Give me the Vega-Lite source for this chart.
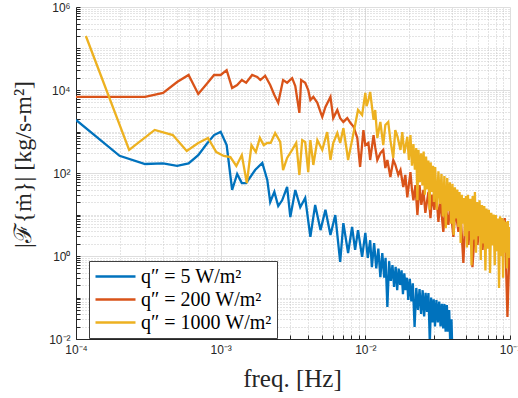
{
"$schema": "https://vega.github.io/schema/vega-lite/v6.json",
"width": 434, "height": 332,
"autosize": {"type": "none"},
"padding": {"left": 76, "top": 7, "right": 8, "bottom": 59},
"background": "white",
"config": {"view": {"stroke": null}},
"datasets": {"d": [
{"s":"5","f":1e-4,"v":1900},{"s":"5","f":2e-4,"v":260},{"s":"5","f":3e-4,"v":165},{"s":"5","f":4e-4,"v":170},{"s":"5","f":5e-4,"v":148},{"s":"5","f":6e-4,"v":170},{"s":"5","f":7e-4,"v":270},{"s":"5","f":8e-4,"v":500},{"s":"5","f":9e-4,"v":820},{"s":"5","f":1e-3,"v":980},{"s":"5","f":1.1e-3,"v":470},{"s":"5","f":1.2e-3,"v":39},{"s":"5","f":1.3e-3,"v":95},{"s":"5","f":1.4e-3,"v":57},{"s":"5","f":1.5e-3,"v":57},{"s":"5","f":1.73e-3,"v":118},{"s":"5","f":1.94e-3,"v":174},{"s":"5","f":2.1e-3,"v":68},{"s":"5","f":2.2e-3,"v":20},{"s":"5","f":2.35e-3,"v":35},{"s":"5","f":2.5e-3,"v":16},{"s":"5","f":2.66e-3,"v":22},{"s":"5","f":2.88e-3,"v":46},{"s":"5","f":3.03e-3,"v":8.7},{"s":"5","f":3.28e-3,"v":39},{"s":"5","f":3.55e-3,"v":15},{"s":"5","f":3.84e-3,"v":25},{"s":"5","f":4.17e-3,"v":2.9},{"s":"5","f":4.5e-3,"v":17},{"s":"5","f":4.9e-3,"v":4.2},{"s":"5","f":5.3e-3,"v":13},{"s":"5","f":5.74e-3,"v":3.2},{"s":"5","f":6.2e-3,"v":9.7},{"s":"5","f":6.7e-3,"v":0.72},{"s":"5","f":7.05e-3,"v":6.2},{"s":"5","f":7.6e-3,"v":1.18},{"s":"5","f":8.1e-3,"v":5.0},{"s":"5","f":8.5e-3,"v":1.4},{"s":"5","f":8.9e-3,"v":4.2},{"s":"5","f":9.5e-3,"v":0.95},{"s":"5","f":1.0e-2,"v":3.6},{"s":"5","f":1.04e-2,"v":0.9},{"s":"5","f":1.08e-2,"v":2.4},{"s":"5","f":1.11e-2,"v":0.54},{"s":"5","f":1.15e-2,"v":2.05},{"s":"5","f":1.19e-2,"v":0.5},{"s":"5","f":1.23e-2,"v":1.5},{"s":"5","f":1.27e-2,"v":0.31},{"s":"5","f":1.31e-2,"v":1.18},{"s":"5","f":1.35e-2,"v":0.3},{"s":"5","f":1.38e-2,"v":0.9},{"s":"5","f":1.42e-2,"v":0.059},{"s":"5","f":1.46e-2,"v":0.75},{"s":"5","f":1.5e-2,"v":0.25},{"s":"5","f":1.54e-2,"v":0.6},{"s":"5","f":1.58e-2,"v":0.18},{"s":"5","f":1.62e-2,"v":0.55},{"s":"5","f":1.66e-2,"v":0.15},{"s":"5","f":1.7e-2,"v":0.5},{"s":"5","f":1.74e-2,"v":0.2},{"s":"5","f":1.78e-2,"v":0.45},{"s":"5","f":1.82e-2,"v":0.12},{"s":"5","f":1.86e-2,"v":0.38},{"s":"5","f":1.9e-2,"v":0.15},{"s":"5","f":1.94e-2,"v":0.3},{"s":"5","f":1.98e-2,"v":0.087},{"s":"5","f":2.03e-2,"v":0.28},{"s":"5","f":2.08e-2,"v":0.08},{"s":"5","f":2.13e-2,"v":0.22},{"s":"5","f":2.19e-2,"v":0.0195},{"s":"5","f":2.25e-2,"v":0.17},{"s":"5","f":2.31e-2,"v":0.05},{"s":"5","f":2.37e-2,"v":0.16},{"s":"5","f":2.43e-2,"v":0.04},{"s":"5","f":2.49e-2,"v":0.15},{"s":"5","f":2.55e-2,"v":0.035},{"s":"5","f":2.61e-2,"v":0.13},{"s":"5","f":2.67e-2,"v":0.045},{"s":"5","f":2.73e-2,"v":0.128},{"s":"5","f":2.79e-2,"v":0.008},{"s":"5","f":2.85e-2,"v":0.1},{"s":"5","f":2.91e-2,"v":0.025},{"s":"5","f":2.97e-2,"v":0.09},{"s":"5","f":3.03e-2,"v":0.02},{"s":"5","f":3.1e-2,"v":0.087},{"s":"5","f":3.17e-2,"v":0.025},{"s":"5","f":3.24e-2,"v":0.08},{"s":"5","f":3.31e-2,"v":0.02},{"s":"5","f":3.38e-2,"v":0.07},{"s":"5","f":3.45e-2,"v":0.018},{"s":"5","f":3.52e-2,"v":0.07},{"s":"5","f":3.59e-2,"v":0.015},{"s":"5","f":3.66e-2,"v":0.066},{"s":"5","f":3.73e-2,"v":0.015},{"s":"5","f":3.8e-2,"v":0.05},{"s":"5","f":3.87e-2,"v":0.006},{"s":"5","f":3.94e-2,"v":0.03},{"s":"5","f":4.0e-2,"v":0.004},
{"s":"200","f":1e-4,"v":6800},{"s":"200","f":3e-4,"v":6800},{"s":"200","f":4e-4,"v":8500},{"s":"200","f":5e-4,"v":15600},{"s":"200","f":6e-4,"v":23000},{"s":"200","f":7e-4,"v":8000},{"s":"200","f":8e-4,"v":14000},{"s":"200","f":9e-4,"v":23000},{"s":"200","f":1e-3,"v":23000},{"s":"200","f":1.1e-3,"v":30000},{"s":"200","f":1.2e-3,"v":11200},{"s":"200","f":1.3e-3,"v":13200},{"s":"200","f":1.4e-3,"v":17400},{"s":"200","f":1.5e-3,"v":15000},{"s":"200","f":1.65e-3,"v":23000},{"s":"200","f":1.79e-3,"v":20600},{"s":"200","f":1.88e-3,"v":17400},{"s":"200","f":2.03e-3,"v":22000},{"s":"200","f":2.2e-3,"v":13200},{"s":"200","f":2.35e-3,"v":7600},{"s":"200","f":2.5e-3,"v":4900},{"s":"200","f":2.7e-3,"v":17400},{"s":"200","f":2.88e-3,"v":15000},{"s":"200","f":3.12e-3,"v":19300},{"s":"200","f":3.28e-3,"v":12500},{"s":"200","f":3.5e-3,"v":2800},{"s":"200","f":3.6e-3,"v":17400},{"s":"200","f":3.84e-3,"v":15000},{"s":"200","f":4.03e-3,"v":10000},{"s":"200","f":4.17e-3,"v":5700},{"s":"200","f":4.37e-3,"v":6800},{"s":"200","f":4.66e-3,"v":4900},{"s":"200","f":4.9e-3,"v":2950},{"s":"200","f":5.04e-3,"v":2250},{"s":"200","f":5.3e-3,"v":3900},{"s":"200","f":5.74e-3,"v":6800},{"s":"200","f":6.0e-3,"v":2100},{"s":"200","f":6.4e-3,"v":3300},{"s":"200","f":6.7e-3,"v":2100},{"s":"200","f":7.05e-3,"v":1700},{"s":"200","f":7.5e-3,"v":2100},{"s":"200","f":7.9e-3,"v":1600},{"s":"200","f":8.3e-3,"v":1300},{"s":"200","f":8.8e-3,"v":700},{"s":"200","f":9.2e-3,"v":140},{"s":"200","f":9.7e-3,"v":1080},{"s":"200","f":1.0e-2,"v":470},{"s":"200","f":1.05e-2,"v":530},{"s":"200","f":1.08e-2,"v":206},{"s":"200","f":1.14e-2,"v":820},{"s":"200","f":1.17e-2,"v":420},{"s":"200","f":1.21e-2,"v":206},{"s":"200","f":1.27e-2,"v":300},{"s":"200","f":1.33e-2,"v":360},{"s":"200","f":1.375e-2,"v":132},{"s":"200","f":1.42e-2,"v":206},{"s":"200","f":1.49e-2,"v":80},{"s":"200","f":1.56e-2,"v":206},{"s":"200","f":1.61e-2,"v":160},{"s":"200","f":1.69e-2,"v":90},{"s":"200","f":1.75e-2,"v":118},{"s":"200","f":1.83e-2,"v":46},{"s":"200","f":1.89e-2,"v":90},{"s":"200","f":1.95e-2,"v":26},{"s":"200","f":2.05e-2,"v":105},{"s":"200","f":2.1e-2,"v":40},{"s":"200","f":2.15e-2,"v":22},{"s":"200","f":2.22e-2,"v":51},{"s":"200","f":2.29e-2,"v":9.7},{"s":"200","f":2.37e-2,"v":51},{"s":"200","f":2.44e-2,"v":17},{"s":"200","f":2.52e-2,"v":39},{"s":"200","f":2.6e-2,"v":11},{"s":"200","f":2.73e-2,"v":35},{"s":"200","f":2.82e-2,"v":8.2},{"s":"200","f":2.9e-2,"v":30},{"s":"200","f":3.0e-2,"v":13},{"s":"200","f":3.1e-2,"v":30},{"s":"200","f":3.2e-2,"v":6.6},{"s":"200","f":3.3e-2,"v":22},{"s":"200","f":3.46e-2,"v":3.8},{"s":"200","f":3.58e-2,"v":17},{"s":"200","f":3.75e-2,"v":5.6},{"s":"200","f":3.87e-2,"v":17},{"s":"200","f":4.06e-2,"v":2.9},{"s":"200","f":4.2e-2,"v":13},{"s":"200","f":4.4e-2,"v":3.8},{"s":"200","f":4.54e-2,"v":13},{"s":"200","f":4.76e-2,"v":0.68},{"s":"200","f":4.92e-2,"v":9.7},{"s":"200","f":5.16e-2,"v":1.84},{"s":"200","f":5.33e-2,"v":8.2},{"s":"200","f":5.5e-2,"v":0.54},{"s":"200","f":5.77e-2,"v":6.6},{"s":"200","f":5.96e-2,"v":1.84},{"s":"200","f":6.25e-2,"v":9.7},{"s":"200","f":6.46e-2,"v":1.4},{"s":"200","f":6.77e-2,"v":10.8},{"s":"200","f":7.1e-2,"v":2.4},{"s":"200","f":7.33e-2,"v":10.8},{"s":"200","f":7.7e-2,"v":1.84},{"s":"200","f":7.94e-2,"v":9.7},{"s":"200","f":8.2e-2,"v":1.55},{"s":"200","f":8.6e-2,"v":7.3},{"s":"200","f":8.9e-2,"v":4.2},{"s":"200","f":9.2e-2,"v":8.2},{"s":"200","f":9.6e-2,"v":0.034},{"s":"200","f":1e-1,"v":4.2},
{"s":"1000","f":1.17e-4,"v":200000},{"s":"1000","f":2.33e-4,"v":360},{"s":"1000","f":3.5e-4,"v":1090},{"s":"1000","f":4.67e-4,"v":820},{"s":"1000","f":5.83e-4,"v":340},{"s":"1000","f":7.0e-4,"v":530},{"s":"1000","f":8.17e-4,"v":700},{"s":"1000","f":9.33e-4,"v":320},{"s":"1000","f":1.05e-3,"v":257},{"s":"1000","f":1.167e-3,"v":243},{"s":"1000","f":1.283e-3,"v":148},{"s":"1000","f":1.4e-3,"v":270},{"s":"1000","f":1.517e-3,"v":57},{"s":"1000","f":1.633e-3,"v":470},{"s":"1000","f":1.75e-3,"v":320},{"s":"1000","f":1.867e-3,"v":700},{"s":"1000","f":1.983e-3,"v":470},{"s":"1000","f":2.1e-3,"v":530},{"s":"1000","f":2.217e-3,"v":530},{"s":"1000","f":2.38e-3,"v":920},{"s":"1000","f":2.58e-3,"v":560},{"s":"1000","f":2.7e-3,"v":118},{"s":"1000","f":2.88e-3,"v":230},{"s":"1000","f":3.12e-3,"v":360},{"s":"1000","f":3.33e-3,"v":530},{"s":"1000","f":3.5e-3,"v":90},{"s":"1000","f":3.66e-3,"v":620},{"s":"1000","f":3.84e-3,"v":560},{"s":"1000","f":4.03e-3,"v":105},{"s":"1000","f":4.17e-3,"v":620},{"s":"1000","f":4.37e-3,"v":156},{"s":"1000","f":4.66e-3,"v":620},{"s":"1000","f":5.04e-3,"v":360},{"s":"1000","f":5.45e-3,"v":970},{"s":"1000","f":5.74e-3,"v":206},{"s":"1000","f":6.0e-3,"v":530},{"s":"1000","f":6.4e-3,"v":920},{"s":"1000","f":6.7e-3,"v":530},{"s":"1000","f":7.05e-3,"v":1200},{"s":"1000","f":7.4e-3,"v":400},{"s":"1000","f":7.6e-3,"v":206},{"s":"1000","f":8.1e-3,"v":620},{"s":"1000","f":8.5e-3,"v":1440},{"s":"1000","f":8.9e-3,"v":3300},{"s":"1000","f":9.5e-3,"v":2500},{"s":"1000","f":1.0e-2,"v":8500},{"s":"1000","f":1.02e-2,"v":4100},{"s":"1000","f":1.05e-2,"v":5700},{"s":"1000","f":1.08e-2,"v":9000},{"s":"1000","f":1.14e-2,"v":1900},{"s":"1000","f":1.17e-2,"v":3300},{"s":"1000","f":1.21e-2,"v":700},{"s":"1000","f":1.27e-2,"v":1700},{"s":"1000","f":1.33e-2,"v":470},{"s":"1000","f":1.375e-2,"v":1440},{"s":"1000","f":1.44e-2,"v":1700},{"s":"1000","f":1.49e-2,"v":620},{"s":"1000","f":1.56e-2,"v":230},{"s":"1000","f":1.61e-2,"v":1080},{"s":"1000","f":1.67e-2,"v":740},{"s":"1000","f":1.75e-2,"v":360},{"s":"1000","f":1.8e-2,"v":970},{"s":"1000","f":1.86e-2,"v":300},{"s":"1000","f":1.95e-2,"v":740},{"s":"1000","f":2.0e-2,"v":206},{"s":"1000","f":2.05e-2,"v":820},{"s":"1000","f":2.1e-2,"v":150},{"s":"1000","f":2.15e-2,"v":500},{"s":"1000","f":2.2e-2,"v":120},{"s":"1000","f":2.25e-2,"v":400},{"s":"1000","f":2.29e-2,"v":22},{"s":"1000","f":2.33e-2,"v":360},{"s":"1000","f":2.38e-2,"v":60},{"s":"1000","f":2.43e-2,"v":300},{"s":"1000","f":2.48e-2,"v":50},{"s":"1000","f":2.53e-2,"v":330},{"s":"1000","f":2.58e-2,"v":30},{"s":"1000","f":2.63e-2,"v":250},{"s":"1000","f":2.68e-2,"v":40},{"s":"1000","f":2.73e-2,"v":200},{"s":"1000","f":2.78e-2,"v":13},{"s":"1000","f":2.83e-2,"v":180},{"s":"1000","f":2.88e-2,"v":35},{"s":"1000","f":2.93e-2,"v":150},{"s":"1000","f":2.98e-2,"v":20},{"s":"1000","f":3.04e-2,"v":140},{"s":"1000","f":3.12e-2,"v":13},{"s":"1000","f":3.2e-2,"v":110},{"s":"1000","f":3.28e-2,"v":18},{"s":"1000","f":3.36e-2,"v":95},{"s":"1000","f":3.44e-2,"v":9},{"s":"1000","f":3.52e-2,"v":85},{"s":"1000","f":3.6e-2,"v":4.7},{"s":"1000","f":3.68e-2,"v":76},{"s":"1000","f":3.76e-2,"v":12},{"s":"1000","f":3.84e-2,"v":60},{"s":"1000","f":3.92e-2,"v":6},{"s":"1000","f":4.0e-2,"v":55},{"s":"1000","f":4.08e-2,"v":3.2},{"s":"1000","f":4.16e-2,"v":45},{"s":"1000","f":4.24e-2,"v":8},{"s":"1000","f":4.32e-2,"v":40},{"s":"1000","f":4.4e-2,"v":5},{"s":"1000","f":4.48e-2,"v":35},{"s":"1000","f":4.56e-2,"v":2.06},{"s":"1000","f":4.64e-2,"v":30},{"s":"1000","f":4.72e-2,"v":6},{"s":"1000","f":4.8e-2,"v":25},{"s":"1000","f":4.88e-2,"v":3},{"s":"1000","f":4.96e-2,"v":28},{"s":"1000","f":5.04e-2,"v":1.6},{"s":"1000","f":5.12e-2,"v":30},{"s":"1000","f":5.22e-2,"v":4},{"s":"1000","f":5.32e-2,"v":24},{"s":"1000","f":5.42e-2,"v":0.6},{"s":"1000","f":5.52e-2,"v":28},{"s":"1000","f":5.62e-2,"v":2.5},{"s":"1000","f":5.72e-2,"v":35},{"s":"1000","f":5.82e-2,"v":1.2},{"s":"1000","f":5.92e-2,"v":20},{"s":"1000","f":6.04e-2,"v":3},{"s":"1000","f":6.16e-2,"v":22},{"s":"1000","f":6.28e-2,"v":0.8},{"s":"1000","f":6.4e-2,"v":17},{"s":"1000","f":6.52e-2,"v":2},{"s":"1000","f":6.64e-2,"v":16},{"s":"1000","f":6.76e-2,"v":0.45},{"s":"1000","f":6.88e-2,"v":14},{"s":"1000","f":7.0e-2,"v":1.5},{"s":"1000","f":7.14e-2,"v":13},{"s":"1000","f":7.28e-2,"v":0.39},{"s":"1000","f":7.42e-2,"v":11},{"s":"1000","f":7.56e-2,"v":1.8},{"s":"1000","f":7.7e-2,"v":10},{"s":"1000","f":7.84e-2,"v":0.6},{"s":"1000","f":7.98e-2,"v":9.7},{"s":"1000","f":8.12e-2,"v":1.3},{"s":"1000","f":8.26e-2,"v":8},{"s":"1000","f":8.4e-2,"v":0.17},{"s":"1000","f":8.54e-2,"v":9},{"s":"1000","f":8.68e-2,"v":1},{"s":"1000","f":8.82e-2,"v":8.2},{"s":"1000","f":8.96e-2,"v":0.3},{"s":"1000","f":9.1e-2,"v":7.3},{"s":"1000","f":9.24e-2,"v":1.2},{"s":"1000","f":9.38e-2,"v":6.6},{"s":"1000","f":9.52e-2,"v":0.5},{"s":"1000","f":9.66e-2,"v":7},{"s":"1000","f":9.8e-2,"v":0.9},{"s":"1000","f":1e-1,"v":5}
]},
"data": {"name": "d"},
"mark": {"type": "line", "strokeWidth": 2.3, "clip": true},
"encoding": {
 "x": {"field": "f", "type": "quantitative",
  "scale": {"type": "log", "domain": [0.0001, 0.1], "nice": false},
  "axis": {
   "values": [1e-4,2e-4,3e-4,4e-4,5e-4,6e-4,7e-4,8e-4,9e-4,1e-3,2e-3,3e-3,4e-3,5e-3,6e-3,7e-3,8e-3,9e-3,1e-2,2e-2,3e-2,4e-2,5e-2,6e-2,7e-2,8e-2,9e-2,1e-1],
   "title": "freq. [Hz]",
   "titleFont": "Liberation Serif", "titleFontSize": 25, "titleFontWeight": "normal", "titleColor": "#262626",
   "titleX": 216, "titleY": 47, "titleBaseline": "alphabetic", "titleAlign": "center",
   "labelExpr": "abs(log(datum.value)/LN10 - round(log(datum.value)/LN10)) > 0.001 ? '' : round(log(datum.value)/LN10) == -4 ? '10⁻⁴' : round(log(datum.value)/LN10) == -3 ? '10⁻³' : round(log(datum.value)/LN10) == -2 ? '10⁻²' : '10⁻¹'",
   "labelFont": "Liberation Sans", "labelFontSize": 12, "labelColor": "#262626", "labelPadding": 9,
   "labelFlush": false, "labelOverlap": false, "labelBound": false,
   "grid": true,
   "gridColor": {"condition": {"test": "abs(log(datum.value)/LN10 - round(log(datum.value)/LN10)) < 0.001", "value": "#dedede"}, "value": "#c8c8c8"},
   "gridDash": {"condition": {"test": "abs(log(datum.value)/LN10 - round(log(datum.value)/LN10)) < 0.001", "value": []}, "value": [1, 2]},
   "gridWidth": 1,
   "domainColor": "#262626", "domainWidth": 1,
   "tickColor": "#262626", "tickSize": -4
  }
 },
 "y": {"field": "v", "type": "quantitative",
  "scale": {"type": "log", "domain": [0.01, 1000000], "nice": false},
  "axis": {
   "values": [0.01,0.02,0.03,0.04,0.05,0.06,0.07,0.08,0.09,0.1,0.2,0.3,0.4,0.5,0.6,0.7,0.8,0.9,1,2,3,4,5,6,7,8,9,10,20,30,40,50,60,70,80,90,100,200,300,400,500,600,700,800,900,1000,2000,3000,4000,5000,6000,7000,8000,9000,10000,20000,30000,40000,50000,60000,70000,80000,90000,100000,200000,300000,400000,500000,600000,700000,800000,900000,1000000],
   "title": "|ℱ{ṁ}|  [kg/s-m²]",
   "titleFont": "Liberation Serif", "titleFontSize": 24, "titleFontWeight": "normal", "titleColor": "#262626",
   "titleX": -53, "titleY": 157, "titleBaseline": "middle", "titleAlign": "center", "titleAngle": 270,
   "labelExpr": "(abs(log(datum.value)/LN10 - round(log(datum.value)/LN10)) > 0.001 || round(log(datum.value)/LN10) % 2 != 0) ? '' : round(log(datum.value)/LN10) == -2 ? '10⁻²' : round(log(datum.value)/LN10) == 0 ? '10⁰' : round(log(datum.value)/LN10) == 2 ? '10²' : round(log(datum.value)/LN10) == 4 ? '10⁴' : '10⁶'",
   "labelFont": "Liberation Sans", "labelFontSize": 12, "labelColor": "#262626", "labelPadding": 10,
   "labelFlush": false, "labelOverlap": false, "labelBound": false,
   "grid": true,
   "gridColor": {"condition": {"test": "abs(log(datum.value)/LN10 - round(log(datum.value)/LN10)) < 0.001 && round(log(datum.value)/LN10) % 2 == 0", "value": "#dedede"}, "value": "#c8c8c8"},
   "gridDash": {"condition": {"test": "abs(log(datum.value)/LN10 - round(log(datum.value)/LN10)) < 0.001 && round(log(datum.value)/LN10) % 2 == 0", "value": []}, "value": [1, 2]},
   "gridWidth": 1,
   "domainColor": "#262626", "domainWidth": 1,
   "tickColor": "#262626", "tickSize": -4
  }
 },
 "color": {"field": "s", "type": "nominal",
  "scale": {"domain": ["5", "200", "1000"], "range": ["#0072BD", "#D95319", "#EDB120"]},
  "legend": {
   "title": null, "orient": "none", "legendX": 13, "legendY": 254, "direction": "vertical",
   "fillColor": "white", "strokeColor": "#404040", "padding": 5,
   "symbolType": "stroke", "symbolSize": 1600, "symbolStrokeWidth": 2.5,
   "clipHeight": 21,
   "labelFont": "Liberation Serif", "labelFontSize": 20, "labelColor": "black", "labelLimit": 400,
   "labelOffset": 4, "rowPadding": 2,
   "labelExpr": "'q″ = ' + datum.label + ' W/m²'"
  }
 }
}
}
